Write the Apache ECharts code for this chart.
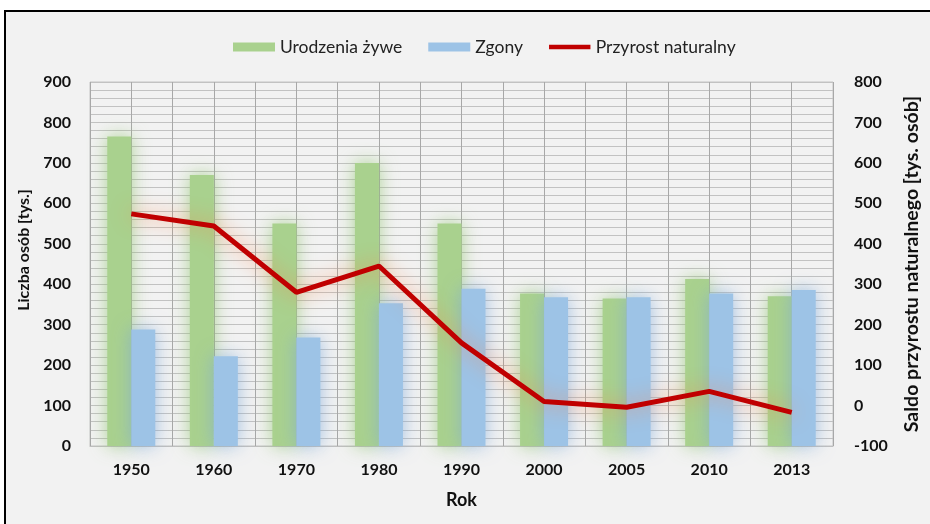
<!DOCTYPE html>
<html>
<head>
<meta charset="utf-8">
<script src="https://cdn.jsdelivr.net/npm/echarts@6/dist/echarts.min.js"></script>
<style>html,body{margin:0;padding:0;background:#fff}#c{width:930px;height:524px}</style>
</head>
<body>
<div id="c"></div>
<script>
const years = ['1950','1960','1970','1980','1990','2000','2005','2010','2013'];
const births = [765, 670, 550, 700, 550, 377, 365, 413, 370];
const deaths = [288, 222, 268, 353, 389, 368, 368, 377, 386];
const naturalIncrease = [474, 444, 280, 345, 155, 10, -4, 35, -17];
const leftTicks = {min: 0, max: 900, interval: 100};
const rightTicks = {min: -100, max: 800, interval: 100};

const FONT = 'Lato';
const chart = echarts.init(document.getElementById('c'));
chart.setOption({
  backgroundColor: '#ffffff',
  textStyle: {fontFamily: FONT},
  graphic: [{
    type: 'rect', z: -10, silent: true,
    shape: {x: 5, y: 11, width: 940, height: 530},
    style: {fill: '#f2f2f2', stroke: '#000000', lineWidth: 2}
  }],
  legend: {
    top: 33, left: 228,
    itemWidth: 42, itemHeight: 9, itemGap: 26,
    textStyle: {fontFamily: FONT, fontSize: 17.5, color: '#222'},
    data: [
      {name: 'Urodzenia żywe', icon: 'rect'},
      {name: 'Zgony', icon: 'rect'},
      {name: 'Przyrost naturalny', icon: 'path://M0,0 M46,10 M0,2.6 L46,2.6 L46,7.4 L0,7.4 Z', itemStyle: {color: '#c00000'}}
    ]
  },
  grid: {left: 90, right: 89, top: 82, bottom: 78, show: true, borderColor: '#c4c4c4', borderWidth: 1, backgroundColor: 'transparent'},
  xAxis: [{
    type: 'category', data: years,
    axisLine: {show: true, lineStyle: {color: '#bfbfbf'}},
    axisTick: {show: false},
    splitLine: {show: false},
    axisLabel: {fontFamily: FONT, fontWeight: 'bold', fontSize: 16, color: '#111', margin: 16},
    name: 'Rok', nameLocation: 'middle', nameGap: 45,
    nameTextStyle: {fontFamily: FONT, fontWeight: 'bold', fontSize: 18, color: '#111'}
  }, {
    type: 'value', min: 0, max: 9, interval: 0.5, position: 'top',
    axisLine: {show: false}, axisTick: {show: false}, axisLabel: {show: false},
    splitLine: {show: true, lineStyle: {color: '#a8a8a8', width: 1}}
  }],
  yAxis: [{
    type: 'value', min: leftTicks.min, max: leftTicks.max, interval: leftTicks.interval,
    axisLine: {show: false}, axisTick: {show: false},
    axisLabel: {fontFamily: FONT, fontWeight: 'bold', fontSize: 16, color: '#111', margin: 19},
    splitLine: {show: true, lineStyle: {color: '#c2c2c2'}},
    minorTick: {show: false, splitNumber: 5},
    minorSplitLine: {show: true, lineStyle: {color: '#c2c2c2'}},
    name: 'Liczba osób [tys.]', nameLocation: 'middle', nameGap: 57,
    nameTextStyle: {fontFamily: FONT, fontWeight: 'bold', fontSize: 16, color: '#111', padding: [0, 0, 0, 28]}
  }, {
    type: 'value', min: rightTicks.min, max: rightTicks.max, interval: rightTicks.interval,
    axisLine: {show: false}, axisTick: {show: false},
    axisLabel: {fontFamily: FONT, fontWeight: 'bold', fontSize: 16, color: '#111', margin: 21},
    splitLine: {show: false},
    name: 'Saldo przyrostu naturalnego [tys. osób]', nameLocation: 'middle', nameGap: 69, nameRotate: 90,
    nameTextStyle: {fontFamily: FONT, fontWeight: 'bold', fontSize: 19.5, color: '#111'}
  }],
  series: [{
    name: 'Urodzenia żywe', type: 'bar', data: births, barWidth: 24, barGap: '0%',
    itemStyle: {color: '#a9d18e', shadowColor: 'rgba(140,195,105,0.7)', shadowBlur: 18}
  }, {
    name: 'Zgony', type: 'bar', data: deaths, barWidth: 24,
    itemStyle: {color: '#9dc3e6', shadowColor: 'rgba(125,170,220,0.7)', shadowBlur: 18}
  }, {
    name: 'Przyrost naturalny', type: 'line', yAxisIndex: 1, data: naturalIncrease,
    symbol: 'none', z: 5,
    itemStyle: {color: '#c00000'},
    lineStyle: {color: '#c00000', width: 5, shadowColor: 'rgba(255,125,60,0.7)', shadowBlur: 20}
  }]
});
</script>
</body>
</html>
